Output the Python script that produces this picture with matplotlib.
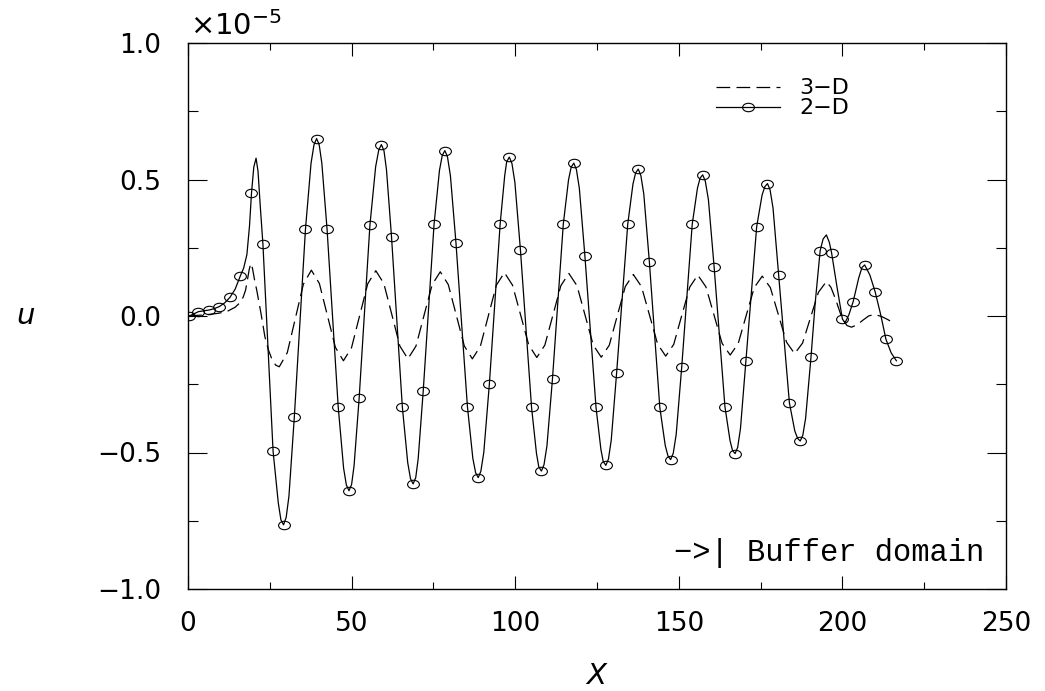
import matplotlib
matplotlib.use('Agg')
import matplotlib.pyplot as plt
from matplotlib.path import Path
from matplotlib.transforms import Affine2D
from matplotlib.ticker import MultipleLocator, FuncFormatter

# u values are in units of 1e-5

# 2-D run: sampled points shown with open markers
x_2d_marks = [0.4, 3.2, 6.5, 9.5, 12.8, 16.0, 19.4, 22.9, 26.0, 29.2,
              32.5, 35.9, 39.3, 42.5, 45.9, 49.2, 52.3, 55.6, 59.1, 62.2,
              65.5, 68.8, 71.9, 75.2, 78.5, 81.9, 85.4, 88.7, 92.1, 95.4,
              98.2, 101.6, 105.0, 108.0, 111.4, 114.7, 117.9, 121.3, 124.7, 127.7,
              131.0, 134.4, 137.6, 141.0, 144.2, 147.5, 150.9, 154.1, 157.3, 160.8,
              164.1, 167.2, 170.5, 173.8, 177.1, 180.5, 183.8, 187.1, 190.4, 193.2,
              196.7, 200.0, 203.3, 206.8, 210.0, 213.3, 216.5]
u_2d_marks = [0.000, 0.016, 0.022, 0.034, 0.068, 0.147, 0.449, 0.263, -0.495, -0.765,
              -0.369, 0.318, 0.650, 0.318, -0.332, -0.640, -0.302, 0.333, 0.628, 0.290,
              -0.332, -0.615, -0.273, 0.336, 0.606, 0.267, -0.332, -0.592, -0.250, 0.337,
              0.582, 0.242, -0.335, -0.568, -0.229, 0.337, 0.560, 0.220, -0.335, -0.547,
              -0.208, 0.337, 0.538, 0.199, -0.335, -0.526, -0.186, 0.336, 0.517, 0.179,
              -0.332, -0.504, -0.166, 0.327, 0.485, 0.152, -0.318, -0.458, -0.151, 0.239,
              0.231, -0.011, 0.053, 0.187, 0.089, -0.085, -0.164]

# 2-D run: the continuous curve (read more densely than the markers)
x_2d_line = [0.0, 0.4, 1.8, 3.2, 4.9, 6.5, 8.0, 9.5, 11.2, 12.8,
             14.4, 16.0, 17.0, 18.0, 18.8, 19.4, 20.1, 20.8, 21.4, 22.1,
             22.9, 24.45, 26.0, 27.6, 28.4, 29.2, 30.0, 30.85, 32.5, 34.2,
             35.9, 37.6, 38.5, 39.3, 40.1, 40.9, 42.5, 44.2, 45.9, 47.55,
             48.4, 49.2, 50.0, 50.75, 52.3, 53.95, 55.6, 57.35, 58.3, 59.1,
             59.9, 60.65, 62.2, 63.85, 65.5, 67.15, 68.0, 68.8, 69.6, 70.35,
             71.9, 73.55, 75.2, 76.85, 77.7, 78.5, 79.3, 80.2, 81.9, 83.65,
             85.4, 87.05, 87.9, 88.7, 89.5, 90.4, 92.1, 93.75, 95.4, 96.8,
             97.4, 98.2, 99.0, 99.9, 101.6, 103.3, 105.0, 106.5, 107.2, 108.0,
             108.8, 109.7, 111.4, 113.05, 114.7, 116.3, 117.1, 117.9, 118.7, 119.6,
             121.3, 123.0, 124.7, 126.2, 126.9, 127.7, 128.5, 129.35, 131.0, 132.7,
             134.4, 136.0, 136.8, 137.6, 138.4, 139.3, 141.0, 142.6, 144.2, 145.85,
             146.7, 147.5, 148.3, 149.2, 150.9, 152.5, 154.1, 155.7, 156.5, 157.3,
             158.1, 159.05, 160.8, 162.45, 164.1, 165.65, 166.4, 167.2, 168.0, 168.85,
             170.5, 172.15, 173.8, 175.45, 176.3, 177.1, 177.9, 178.8, 180.5, 182.15,
             183.8, 185.45, 186.3, 187.1, 187.9, 188.75, 190.4, 191.7, 193.2, 194.1,
             195.1, 196.0, 196.7, 198.3, 200.0, 200.8, 202.0, 203.3, 205.0, 206.0,
             206.8, 208.4, 210.0, 211.7, 213.3, 214.9, 216.5]
u_2d_line = [0.000, 0.000, 0.008, 0.016, 0.019, 0.022, 0.027, 0.034, 0.048, 0.068,
             0.098, 0.147, 0.175, 0.225, 0.330, 0.449, 0.545, 0.578, 0.530, 0.400,
             0.263, -0.116, -0.495, -0.685, -0.747, -0.765, -0.738, -0.660, -0.369, -0.025,
             0.318, 0.559, 0.627, 0.650, 0.627, 0.560, 0.318, -0.007, -0.332, -0.557,
             -0.619, -0.640, -0.617, -0.549, -0.302, 0.015, 0.333, 0.547, 0.608, 0.628,
             0.605, 0.537, 0.290, -0.021, -0.332, -0.537, -0.596, -0.615, -0.592, -0.523,
             -0.273, 0.031, 0.336, 0.533, 0.588, 0.606, 0.583, 0.514, 0.267, -0.032,
             -0.332, -0.521, -0.574, -0.592, -0.569, -0.500, -0.250, 0.043, 0.337, 0.515,
             0.565, 0.582, 0.559, 0.490, 0.242, -0.046, -0.335, -0.503, -0.552, -0.568,
             -0.545, -0.476, -0.229, 0.054, 0.337, 0.499, 0.545, 0.560, 0.537, 0.468,
             0.220, -0.057, -0.335, -0.489, -0.533, -0.547, -0.524, -0.455, -0.208, 0.065,
             0.337, 0.484, 0.524, 0.538, 0.515, 0.447, 0.199, -0.068, -0.335, -0.474,
             -0.513, -0.526, -0.503, -0.434, -0.186, 0.075, 0.336, 0.468, 0.505, 0.517,
             0.494, 0.426, 0.179, -0.077, -0.332, -0.456, -0.492, -0.504, -0.481, -0.412,
             -0.166, 0.081, 0.327, 0.443, 0.474, 0.485, 0.462, 0.395, 0.152, -0.083,
             -0.318, -0.421, -0.448, -0.458, -0.437, -0.375, -0.151, 0.050, 0.239, 0.282,
             0.297, 0.270, 0.231, 0.110, -0.011, -0.025, 0.005, 0.053, 0.140, 0.178,
             0.187, 0.150, 0.089, 0.005, -0.085, -0.135, -0.164]

# 3-D run: dashed curve
x_3d = [0.0, 5.0, 9.3, 12.0, 14.4, 16.0, 16.9, 17.6, 18.2, 18.7,
        19.2, 19.7, 20.3, 21.0, 22.3, 23.5, 24.6, 25.7, 26.8, 27.9,
        30.35, 32.8, 35.25, 37.7, 40.15, 42.6, 45.05, 47.5, 49.98, 52.45,
        54.93, 57.4, 59.85, 62.3, 64.75, 67.2, 69.68, 72.15, 74.63, 77.1,
        79.55, 82.0, 84.45, 86.9, 89.35, 91.8, 94.25, 96.7, 99.18, 101.65,
        104.13, 106.6, 109.05, 111.5, 113.95, 116.4, 118.88, 121.35, 123.83, 126.3,
        128.75, 131.2, 133.65, 136.1, 138.58, 141.05, 143.53, 146.0, 148.45, 150.9,
        153.35, 155.8, 158.28, 160.75, 163.23, 165.7, 168.15, 170.6, 173.05, 175.5,
        177.98, 180.45, 182.93, 185.4, 187.83, 190.25, 192.68, 195.1, 196.5, 197.9,
        199.9, 201.4, 202.8, 204.5, 206.3, 208.0, 209.8, 212.0, 214.0, 216.1]
u_3d = [0.000, 0.004, 0.010, 0.017, 0.032, 0.050, 0.070, 0.095, 0.135, 0.170,
        0.193, 0.175, 0.135, 0.095, 0.010, -0.076, -0.125, -0.160, -0.180, -0.186,
        -0.134, -0.009, 0.116, 0.168, 0.119, 0.002, -0.115, -0.164, -0.116, 0.001,
        0.118, 0.166, 0.119, 0.005, -0.110, -0.157, -0.110, 0.003, 0.115, 0.162,
        0.115, 0.003, -0.110, -0.157, -0.111, 0.001, 0.113, 0.159, 0.113, 0.004,
        -0.106, -0.152, -0.107, 0.002, 0.111, 0.156, 0.111, 0.003, -0.106, -0.151,
        -0.107, 0.001, 0.108, 0.152, 0.108, 0.003, -0.103, -0.147, -0.104, 0.002,
        0.106, 0.150, 0.107, 0.004, -0.100, -0.143, -0.101, 0.002, 0.104, 0.146,
        0.104, 0.004, -0.096, -0.138, -0.099, -0.006, 0.087, 0.126, 0.105, 0.062,
        -0.009, -0.035, -0.041, -0.032, -0.015, 0.000, 0.006, -0.002, -0.014, -0.029]

x_ticks = [0, 50, 100, 150, 200, 250]
u_ticks = [-1.0, -0.5, 0.0, 0.5, 1.0]

W, H = 1045, 691
fig = plt.figure(figsize=(W / 100, H / 100), dpi=100)
ax = fig.add_axes([188 / W, 1 - 589 / H, (1006 - 188) / W, (589 - 43) / H])

# slightly flattened open circle, like the original plot symbol
ellipse = Path.unit_circle().transformed(Affine2D().scale(1.4, 1.0))

ax.plot(x_3d, u_3d, color='black', lw=0.9, dashes=[11, 5], label='3\u2212D')
ax.plot(x_2d_line, u_2d_line, color='black', lw=0.9)
ax.plot(x_2d_marks, u_2d_marks, ls='none', marker=ellipse, ms=8.5,
        mfc='none', mec='black', mew=0.8)
# legend proxy for the 2-D entry (line with one symbol in the middle)
ax.plot([], [], color='black', lw=0.9, marker=ellipse, ms=8.5,
        mfc='none', mec='black', mew=0.8, label='2\u2212D')

ax.set_xlim(0, 250)
ax.set_ylim(-1.0, 1.0)
ax.set_xticks(x_ticks)
ax.set_yticks(u_ticks)
ax.xaxis.set_minor_locator(MultipleLocator(25))
ax.yaxis.set_minor_locator(MultipleLocator(0.25))
ax.yaxis.set_major_formatter(
    FuncFormatter(lambda v, pos: f'{v:.1f}'.replace('-', '\u2212')))

for s in ax.spines.values():
    s.set_linewidth(1.0)
ax.tick_params(axis='both', which='both', direction='in', top=True, right=True,
               width=0.8, labelsize=19)
ax.tick_params(axis='x', which='major', length=9.5, pad=16)
ax.tick_params(axis='x', which='minor', length=5)
ax.tick_params(axis='y', which='major', length=13.5, pad=19)
ax.tick_params(axis='y', which='minor', length=7)

ax.set_xlabel('$X$', fontsize=21)
ax.xaxis.set_label_coords(0.5, -0.133)
ax.set_ylabel('$u$', fontsize=21, rotation=0, va='center')
ax.yaxis.set_label_coords(-0.198, 0.5)

ax.text(0.002, 1.004, r'$\times\mathregular{10^{-5}}$', transform=ax.transAxes,
        fontsize=21, ha='left', va='bottom')

ax.legend(loc='upper left', bbox_to_anchor=(0.645, 0.935), frameon=False,
          fontsize=16, handlelength=2.9, handletextpad=0.85, labelspacing=0.0,
          borderpad=0, borderaxespad=0, numpoints=1)

ax.text(0.974, 0.066, '\u2212>| Buffer domain', transform=ax.transAxes,
        fontsize=22, family='Liberation Mono', ha='right', va='center')

fig.savefig('out.png', dpi=100)
